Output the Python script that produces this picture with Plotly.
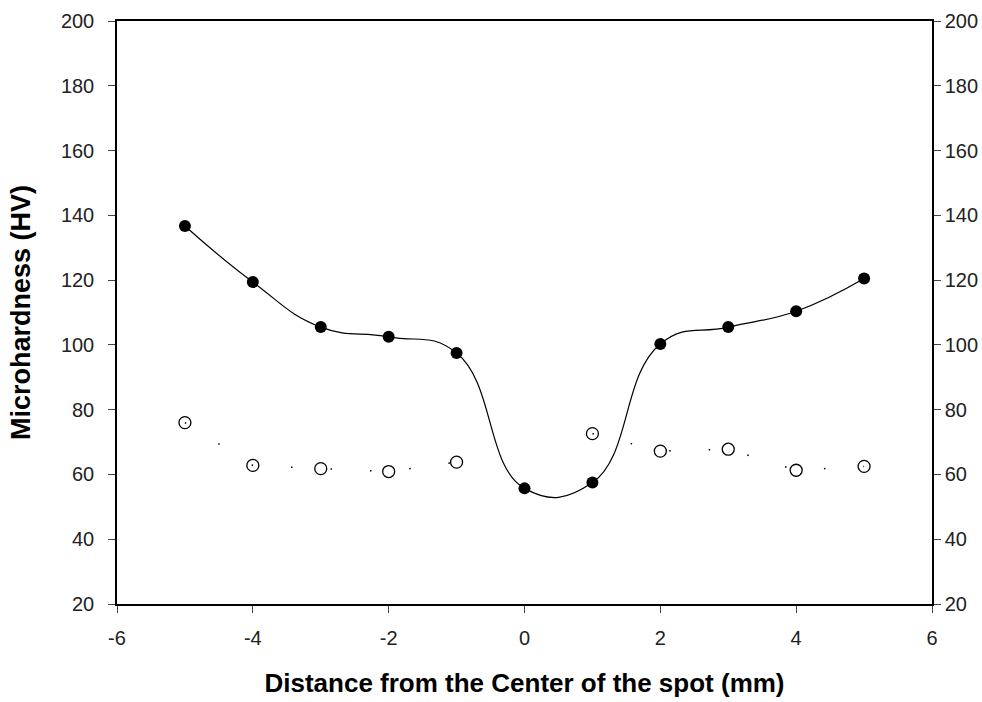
import plotly.graph_objects as go

distance = [-5, -4, -3, -2, -1, 0, 1, 2, 3, 4, 5]
hv_filled = [136.7, 119.4, 105.5, 102.5, 97.5, 55.7, 57.5, 100.3, 105.5, 110.4, 120.5]
hv_open = [76.0, 62.8, 61.8, 60.9, 63.8, None, 72.6, 67.2, 67.8, 61.3, 62.5]

x_ticks = [-6, -4, -2, 0, 2, 4, 6]
x_labels = ["-6", "-4", "-2", "0", "2", "4", "6"]
y_ticks = [20, 40, 60, 80, 100, 120, 140, 160, 180, 200]
y_labels = [str(v) for v in y_ticks]

font_fam = "Liberation Sans, Arial"

fig = go.Figure()
fig.add_trace(go.Scatter(
    x=distance, y=hv_open, mode="lines+markers",
    line=dict(color="black", width=1.5, dash="1.5px,38px"),
    marker=dict(symbol="circle-open", size=12, color="black", line=dict(width=1.3)),
    connectgaps=False, showlegend=False))
fig.add_trace(go.Scatter(
    x=distance, y=hv_filled, mode="lines+markers",
    line=dict(color="black", width=1.2, shape="spline", smoothing=1.3),
    marker=dict(symbol="circle", size=12, color="black"),
    showlegend=False))
fig.add_trace(go.Scatter(x=[0], y=[100], yaxis="y2", mode="markers",
                         marker=dict(opacity=0), showlegend=False, hoverinfo="skip"))

fig.update_layout(
    width=982, height=702,
    margin=dict(l=117, r=50, t=21, b=98, autoexpand=False),
    plot_bgcolor="white", paper_bgcolor="white",
    font=dict(family=font_fam, size=20, color="#222"),
    xaxis=dict(range=[-6, 6], tickvals=x_ticks, ticktext=x_labels, automargin=False,
               ticks="outside", ticklen=7, ticklabelstandoff=8,
               showline=True, linecolor="black", linewidth=1.5, mirror=True,
               showgrid=False, zeroline=False,
               title=dict(text="<b>Distance from the Center of the spot (mm)</b>",
                          font=dict(size=26, color="black"), standoff=26)),
    yaxis=dict(range=[20, 200], tickvals=y_ticks, ticktext=y_labels, automargin=False,
               ticks="outside", ticklen=7, ticklabelstandoff=10,
               showline=True, linecolor="black", linewidth=1.5,
               showgrid=False, zeroline=False,
               title=dict(text="<b>Microhardness (HV)</b>",
                          font=dict(size=27, color="black"), standoff=22)),
    yaxis2=dict(range=[20, 200], tickvals=y_ticks, ticktext=y_labels, automargin=False,
                ticks="outside", ticklen=7,
                overlaying="y", side="right",
                showline=True, linecolor="black", linewidth=1.5,
                showgrid=False, zeroline=False),
)
fig.write_html("out.html")
